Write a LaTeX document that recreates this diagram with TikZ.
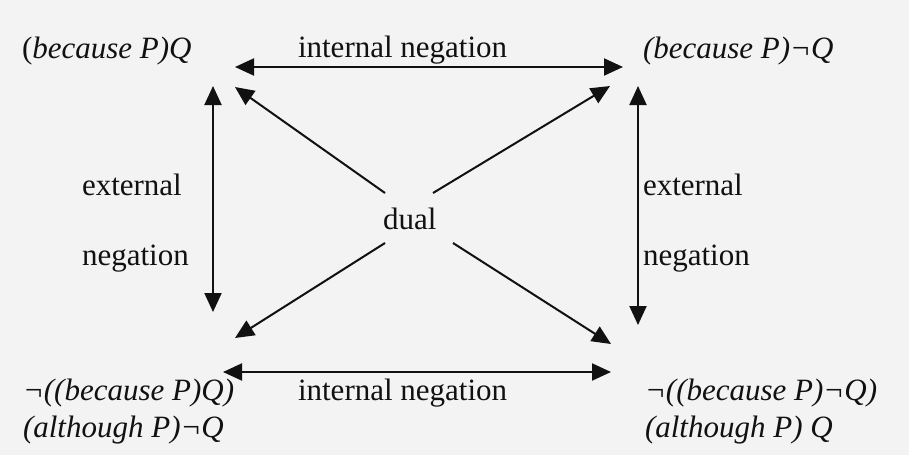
\documentclass[tikz,border=0pt]{standalone}
\usepackage{fontspec}
\setmainfont{Liberation Serif}
\usetikzlibrary{arrows.meta}
\definecolor{paper}{RGB}{243,243,243}
\definecolor{ink}{RGB}{17,17,17}
\begin{document}
\begin{tikzpicture}[x=1pt,y=-1pt,
  lbl/.style={inner sep=0pt,outer sep=0pt,text=ink,font=\fontsize{31}{37}\selectfont},
  corner/.style={lbl,align=left,font=\fontsize{31}{37}\selectfont\itshape},
  tip/.tip={Triangle[length=19pt,width=17pt]},
  arr/.style={draw=ink,line width=2pt,-tip},
  darr/.style={draw=ink,line width=2pt,tip-tip}]
\fill[paper] (0,0) rectangle (909,455);
\useasboundingbox (0,0) rectangle (909,455);
% corner statements
\node[corner,anchor=base west] (tl) at (22,58) {\upshape(\itshape because P)Q};
\node[corner,anchor=base west] (tr) at (643,58) {(because P)¬Q};
\node[corner,anchor=base west] (bl) at (23,437) {¬((because P)Q)\\(although P)¬Q};
\node[corner,anchor=base west] (br) at (645,437) {¬((because P)¬Q)\\(although P) Q};
% labels
\node[lbl,anchor=base west] (intop) at (298,57) {internal negation};
\node[lbl,anchor=base west] (inbot) at (298,400) {internal negation};
\node[lbl,anchor=base west] (exl) at (82,195) {external};
\node[lbl,anchor=base west] (ngl) at (82,265) {negation};
\node[lbl,anchor=base west] (exr) at (643,195) {external};
\node[lbl,anchor=base west] (ngr) at (643,265) {negation};
\node[lbl,anchor=base west] (dual) at (383,229) {dual};
% arrow endpoints
\coordinate (tlh) at (235,67);
\coordinate (trh) at (623,67);
\coordinate (blh) at (223,372);
\coordinate (brh) at (611,372);
\coordinate (tlv) at (213,86);
\coordinate (blv) at (213,312);
\coordinate (trv) at (638,86);
\coordinate (brv) at (638,325);
\coordinate (tld) at (235,87);
\coordinate (trd) at (610,86);
\coordinate (bld) at (235,338);
\coordinate (brd) at (611,344);
\coordinate (d1) at (385,193);
\coordinate (d2) at (433,193);
\coordinate (d3) at (385,243);
\coordinate (d4) at (453,243);
% connectors
\draw[darr] (tlh) -- (trh);
\draw[darr] (blh) -- (brh);
\draw[darr] (tlv) -- (blv);
\draw[darr] (trv) -- (brv);
\draw[arr] (d1) -- (tld);
\draw[arr] (d2) -- (trd);
\draw[arr] (d3) -- (bld);
\draw[arr] (d4) -- (brd);
\end{tikzpicture}
\end{document}
